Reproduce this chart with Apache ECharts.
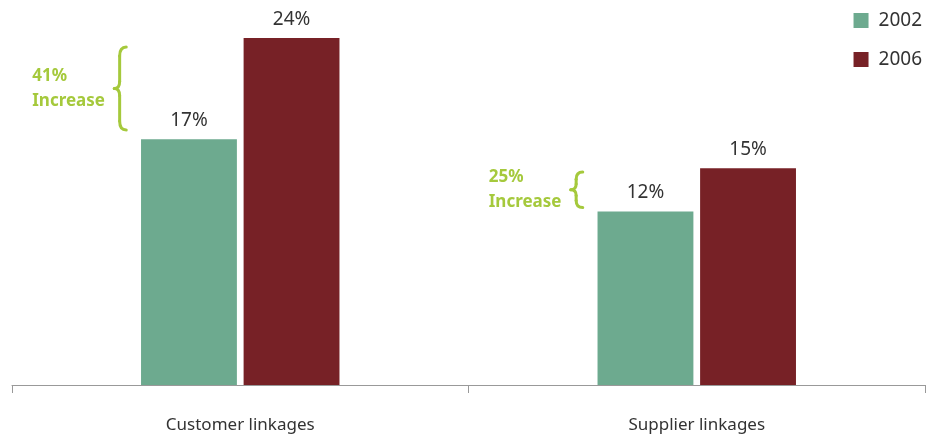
<!DOCTYPE html>
<html>
<head>
<meta charset="utf-8">
<script src="https://cdn.jsdelivr.net/npm/echarts@6/dist/echarts.min.js"></script>
<style>
  html, body { margin: 0; padding: 0; background: #fff; }
  #chart { width: 937px; height: 440px; }
</style>
</head>
<body>
<div id="chart"></div>
<script>
const categories = ['Customer linkages', 'Supplier linkages'];
const years = ['2002', '2006'];
const values2002 = [17, 12];
const values2006 = [24, 15];
const increaseLabels = ['41%\nIncrease', '25%\nIncrease'];

const green = '#6daa8f';
const red = '#772126';
const lime = '#a5c93c';
const font = '"Noto Sans", "Open Sans", sans-serif';

let chart = echarts.init(document.getElementById('chart'));

const barLabel = {
  show: true,
  position: 'top',
  distance: 9,
  formatter: '{c}%',
  color: '#333',
  fontSize: 19,
  fontFamily: font
};

let option = {
  animation: false,
  textStyle: { fontFamily: font },
  grid: { left: 12, right: 12, top: 38, bottom: 55 },
  legend: {
    orient: 'vertical',
    right: 10,
    top: 6,
    icon: 'rect',
    itemWidth: 15,
    itemHeight: 15,
    itemGap: 20,
    textStyle: { color: '#333', fontSize: 19, fontFamily: font, padding: [0, 0, 0, 5] },
    data: years
  },
  xAxis: {
    type: 'category',
    data: categories,
    axisLine: { lineStyle: { color: '#999', width: 1 } },
    axisTick: { show: true, length: 8, lineStyle: { color: '#999' } },
    axisLabel: { color: '#333', fontSize: 17, margin: 32, fontFamily: font }
  },
  yAxis: {
    type: 'value',
    min: 0,
    max: 24,
    show: false
  },
  series: [
    {
      name: years[0],
      type: 'bar',
      data: values2002,
      barWidth: '21%',
      barGap: '7%',
      itemStyle: { color: green },
      label: barLabel
    },
    {
      name: years[1],
      type: 'bar',
      data: values2006,
      barWidth: '21%',
      itemStyle: { color: red },
      label: barLabel
    }
  ]
};

chart.setOption(option);

// curly brace built from curves and lines, placed through the chart's scales
function braceParts(x, y0, y1, w) {
  const mid = (y0 + y1) / 2;
  const xm = x + w * 0.45;
  const r = Math.min(9, (y1 - y0) / 5);
  const st = { stroke: lime, lineWidth: 3, fill: null, lineCap: 'round' };
  return [
    { type: 'bezierCurve', shape: { x1: x + w, y1: y0, cpx1: xm, cpy1: y0, x2: xm, y2: y0 + r }, style: st },
    { type: 'line', shape: { x1: xm, y1: y0 + r, x2: xm, y2: mid - r * 0.8 }, style: st },
    { type: 'bezierCurve', shape: { x1: xm, y1: mid - r * 0.8, cpx1: xm, cpy1: mid, x2: x, y2: mid }, style: st },
    { type: 'bezierCurve', shape: { x1: x, y1: mid, cpx1: xm, cpy1: mid, x2: xm, y2: mid + r * 0.8 }, style: st },
    { type: 'line', shape: { x1: xm, y1: mid + r * 0.8, x2: xm, y2: y1 - r }, style: st },
    { type: 'bezierCurve', shape: { x1: xm, y1: y1 - r, cpx1: xm, cpy1: y1, x2: x + w, y2: y1 }, style: st }
  ];
}

let graphics = [];
categories.forEach((cat, i) => {
  // convertToPixel gives the category centre
  const lo = chart.convertToPixel({ seriesIndex: 0 }, [i, values2002[i]]);
  const hi = chart.convertToPixel({ seriesIndex: 1 }, [i, values2006[i]]);
  const pad = (lo[1] - hi[1]) * 0.09;
  const y0 = hi[1] + pad;
  const y1 = lo[1] - pad;
  const bx = lo[0] - 126;
  graphics = graphics.concat(braceParts(bx, y0, y1, 12));
  graphics.push({
    type: 'text',
    x: bx - 82,
    y: (y0 + y1) / 2,
    style: {
      text: increaseLabels[i],
      fill: lime,
      font: 'bold 17px ' + font,
      align: 'left',
      verticalAlign: 'middle',
      lineHeight: 25
    }
  });
});
chart.setOption({ graphic: graphics });
</script>
</body>
</html>
